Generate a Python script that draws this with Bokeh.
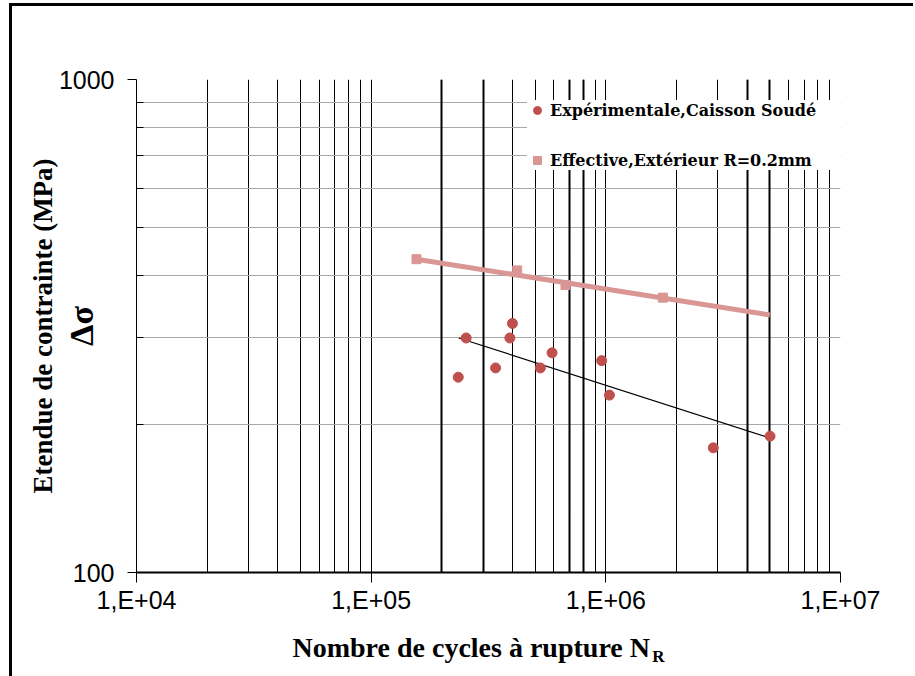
from bokeh.plotting import figure
from bokeh.models import (Range1d, FixedTicker, Grid, Legend, LegendItem, Title,
                          LogAxis)
from bokeh.embed import file_html
from bokeh.resources import INLINE

# ---- data ----
exp_cycles = [2.35e5, 2.54e5, 3.39e5, 3.90e5, 4.0e5, 5.26e5, 5.90e5, 9.6e5, 1.036e6, 2.87e6, 5.01e6]
exp_stress = [249, 299, 260, 299, 320, 260, 279, 269, 229, 179, 189]

exp_fit_cycles = [2.36e5, 5.0e6]
exp_fit_stress = [299, 187.5]

eff_cycles = [1.56e5, 4.19e5, 6.73e5, 1.75e6]
eff_stress = [432, 410, 383, 361]

eff_fit_cycles = [1.56e5, 5.0e6]
eff_fit_stress = [432, 333]

x_major = [1e4, 1e5, 1e6, 1e7]
x_major_labels = ["1,E+04", "1,E+05", "1,E+06", "1,E+07"]
x_minor = [m * 10 ** k for k in (4, 5, 6) for m in range(2, 10)]
x_heavy = [2e5, 3e5, 7e5, 8e5, 4e6, 5e6]
y_major = [100, 1000]
y_major_labels = ["100", "1000"]
y_minor = [m * 100 for m in range(2, 10)]

# anchor (in cycles) under which the subscript "R" of the x title sits
R_ANCHOR = 1.675e6

RED = "#C0504D"
PINK = "#D99694"
SERIF = "Liberation Serif"

p = figure(width=904, height=673, x_axis_type="log", y_axis_type="log",
           x_range=Range1d(1e4, 1e7), y_range=Range1d(100, 1000),
           output_backend="svg", toolbar_location=None,
           min_border_left=127, min_border_right=73, min_border_top=76,
           min_border_bottom=103)
# outer frame of the picture: drawn as an inset shadow behind a transparent canvas
p.styles = {"margin-left": "9px", "margin-top": "3px",
            "box-shadow": "inset 3px 3px 0 0 black", "background": "white"}
p.outline_line_color = None
p.background_fill_color = "white"
p.border_fill_color = None

# axes
p.xaxis.ticker = FixedTicker(ticks=x_major, minor_ticks=x_minor)
p.yaxis.ticker = FixedTicker(ticks=y_major, minor_ticks=y_minor)
p.xaxis.major_label_overrides = dict(zip(x_major, x_major_labels))
p.yaxis.major_label_overrides = dict(zip(y_major, y_major_labels))
for ax in (p.xaxis[0], p.yaxis[0]):
    ax.major_label_text_font = "Liberation Sans"
    ax.major_label_text_font_size = "25px"
    ax.major_label_text_color = "black"
    ax.axis_line_color = "black"
    ax.major_tick_line_color = "black"
    ax.minor_tick_line_color = "black"
p.xaxis.axis_line_width = 2
p.xaxis.major_tick_out = 10
p.xaxis.major_tick_in = 0
p.xaxis.minor_tick_in = 0
p.xaxis.minor_tick_out = 0
p.xaxis.major_label_standoff = 3
p.yaxis.axis_line_width = 1
p.yaxis.major_tick_out = 9
p.yaxis.major_tick_in = 0
p.yaxis.minor_tick_in = 7
p.yaxis.minor_tick_out = 0
p.yaxis.major_label_standoff = 13

# y axis label (delta sigma) sits inside the tick-label column
p.yaxis.axis_label = "Δσ"
p.yaxis.axis_label_text_font = SERIF
p.yaxis.axis_label_text_font_style = "bold"
p.yaxis.axis_label_text_font_size = "34px"
p.yaxis.axis_label_text_color = "black"
p.yaxis.axis_label_standoff = -44

# grids
p.xgrid.grid_line_color = "black"
p.xgrid.grid_line_width = 1
p.xgrid.minor_grid_line_color = "black"
p.xgrid.minor_grid_line_width = 1
p.ygrid.grid_line_color = "black"
p.ygrid.minor_grid_line_color = "#A8A8A8"
p.ygrid.minor_grid_line_width = 1
heavy = Grid(dimension=0, ticker=FixedTicker(ticks=x_heavy),
             grid_line_color="black", grid_line_width=2)
p.add_layout(heavy, "center")

# series
p.line(eff_fit_cycles, eff_fit_stress, line_color=PINK, line_width=5)
r_eff = p.scatter(eff_cycles, eff_stress, marker="square", size=9,
                  fill_color=PINK, line_color=PINK)
p.line(exp_fit_cycles, exp_fit_stress, line_color="black", line_width=1.2)
r_exp = p.scatter(exp_cycles, exp_stress, marker="circle", size=10,
                  fill_color=RED, line_color=RED)

legend = Legend(items=[LegendItem(label="Expérimentale,Caisson Soudé", renderers=[r_exp]),
                       LegendItem(label="Effective,Extérieur R=0.2mm", renderers=[r_eff])],
                location=(391, 402), orientation="vertical",
                padding=15, spacing=30, glyph_width=20, glyph_height=20,
                label_height=20, label_width=290, label_standoff=3, margin=0,
                border_line_color=None, background_fill_color="white",
                background_fill_alpha=1.0,
                label_text_font="DejaVu Serif", label_text_font_style="bold",
                label_text_font_size="16px", label_text_color="black")
p.add_layout(legend, "center")

# outer y title
p.add_layout(Title(text="Etendue de contrainte (MPa)", align="center",
                   text_font=SERIF, text_font_style="bold", text_font_size="27px",
                   text_color="black", standoff=4), "left")

# x title, then a bare axis carrying the subscript "R"
p.add_layout(Title(text="Nombre de cycles à rupture N", align="left", offset=156,
                   text_font=SERIF, text_font_style="bold", text_font_size="28px",
                   text_color="black", standoff=27), "below")
sub_axis = LogAxis(ticker=FixedTicker(ticks=[R_ANCHOR], minor_ticks=[]),
                   major_label_overrides={R_ANCHOR: "R"},
                   axis_line_color=None, major_tick_line_color=None,
                   minor_tick_line_color=None, major_tick_in=0, major_tick_out=0,
                   major_label_standoff=-30,
                   major_label_text_font=SERIF, major_label_text_font_style="bold",
                   major_label_text_font_size="17px", major_label_text_color="black")
p.add_layout(sub_axis, "below")

open("out.html", "w").write(file_html(p, INLINE))
